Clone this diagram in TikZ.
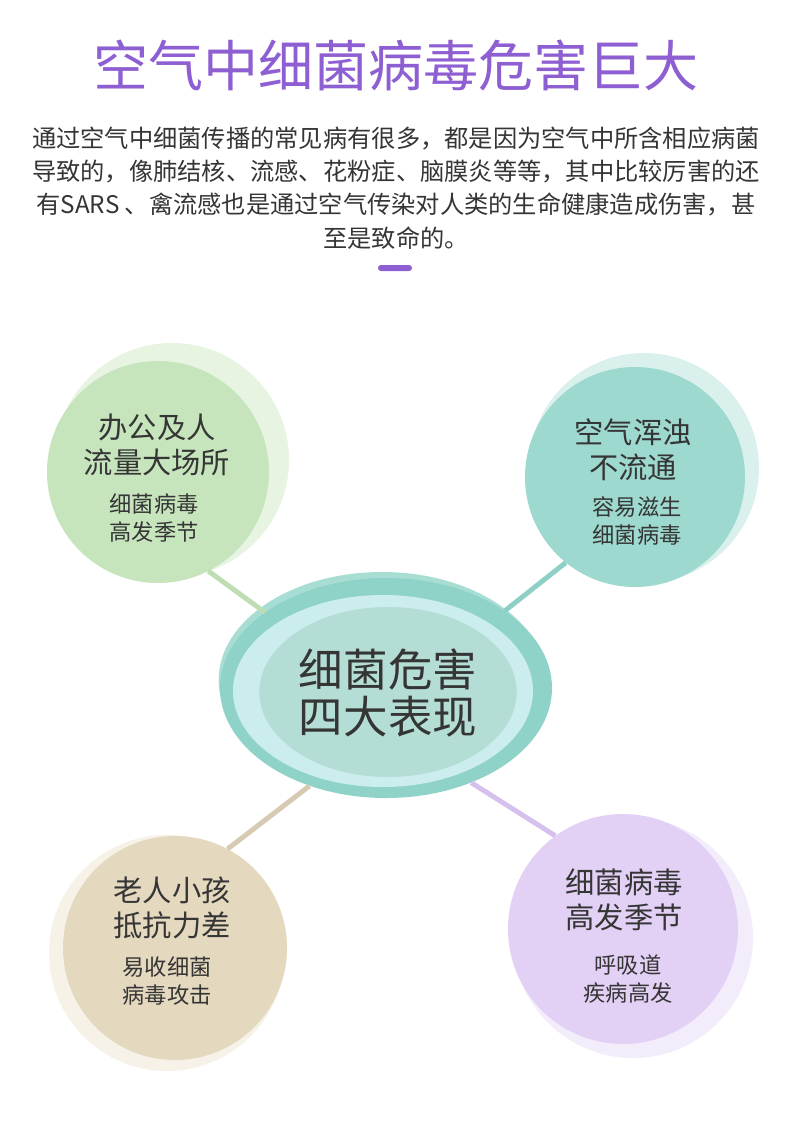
\documentclass[tikz,border=0pt]{standalone}
\usepackage{fontspec}
\setmainfont{Noto Sans CJK SC}
\usetikzlibrary{positioning,shapes.geometric}
\definecolor{titlepurple}{HTML}{8E5FD2}
\definecolor{bodytext}{HTML}{353535}
\definecolor{greenmain}{HTML}{C6E5BD}
\definecolor{greenglow}{HTML}{E7F4E2}
\definecolor{greenline}{HTML}{BFDDB3}
\definecolor{tealmain}{HTML}{9DD9CF}
\definecolor{tealglow}{HTML}{D9F0EC}
\definecolor{tealline}{HTML}{8ED0C5}
\definecolor{beigemain}{HTML}{E4D8BF}
\definecolor{beigeglow}{HTML}{F6F2E8}
\definecolor{beigeline}{HTML}{D6CAB2}
\definecolor{lilacmain}{HTML}{E2D0F5}
\definecolor{lilacglow}{HTML}{F3ECFB}
\definecolor{lilacline}{HTML}{D6C1EE}
\definecolor{coreouter}{HTML}{8FD3C8}
\definecolor{coreglow}{HTML}{A8DDD4}
\definecolor{corering}{HTML}{CCEDEE}
\definecolor{coreinner}{HTML}{B4DED5}
\tikzset{
  bubble/.style={circle, fill=#1, inner sep=0pt},
  headtext/.style={align=center, text=bodytext, font=\fontsize{25}{30}\selectfont},
  subtext/.style={align=center, text=bodytext, font=\fontsize{19}{24.5}\selectfont},
  link/.style={draw=#1, line width=4.2pt},
}

\begin{document}
\begin{tikzpicture}[x=0.03cm, y=-0.03cm]
  \useasboundingbox[fill=white] (0,0) rectangle (790,1144);

  % header
  \node[text=titlepurple, font=\fontsize{47}{50}\selectfont] (title) at (396,66) {空气中细菌病毒危害巨大};
  \node[align=center, text=bodytext, font=\fontsize{20.7}{28.3}\selectfont] (intro) at (396,188)
    {通过空气中细菌传播的常见病有很多，都是因为空气中所含相应病菌\\
     导致的，像肺结核、流感、花粉症、脑膜炎等等，其中比较厉害的还\\
     有SARS 、禽流感也是通过空气传染对人类的生命健康造成伤害，甚\\
     至是致命的。};
  \fill[titlepurple, rounded corners=2.5pt] (378,265) rectangle (412,271);

  % glows
  \fill[greenglow] (172,460) circle[radius=3.51cm];
  \fill[tealglow] (644,468) circle[radius=3.45cm];
  \fill[beigeglow] (167,953) circle[radius=3.54cm];
  \fill[lilacglow] (633,938) circle[radius=3.6cm];
  \fill[coreglow] (382,680) ellipse[x radius=4.9cm, y radius=3.24cm];

  % bubbles
  \node[bubble=greenmain, minimum size=6.66cm] (office) at (158,472) {};
  \node[bubble=tealmain, minimum size=6.6cm] (stale) at (635,477) {};
  \node[bubble=beigemain, minimum size=6.72cm] (elders) at (175,948) {};
  \node[bubble=lilacmain, minimum size=6.9cm] (season) at (623,929) {};
  \node[ellipse, fill=coreouter, minimum width=9.96cm, minimum height=6.6cm, inner sep=0pt] (core) at (386,688) {};
  \fill[corering] (383,691) ellipse[x radius=4.5cm, y radius=2.88cm];
  \fill[coreinner] (388,692) ellipse[x radius=3.86cm, y radius=2.55cm];

  % links
  \draw[link=greenline] (office.-63) -- (core.148);
  \draw[link=tealline] (stale.-129) -- (core.33);
  \draw[link=beigeline] (elders.62) -- (core.-128);
  \draw[link=lilacline] (season.126) -- (core.-48);

  % texts
  \node[align=center, text=bodytext, font=\fontsize{38}{40}\selectfont] (coretext) at (388,693) {细菌危害\\四大表现};
  \node[headtext] (officehead) at (157,445) {办公及人\\流量大场所};
  \node[subtext] (officesub) at (154,518) {细菌病毒\\高发季节};
  \node[headtext] (stalehead) at (633,450) {空气浑浊\\不流通};
  \node[subtext] (stalesub) at (637,521) {容易滋生\\细菌病毒};
  \node[headtext] (eldershead) at (172,908) {老人小孩\\抵抗力差};
  \node[subtext] (elderssub) at (167,981) {易收细菌\\病毒攻击};
  \node[headtext] (seasonhead) at (624,900) {细菌病毒\\高发季节};
  \node[subtext] (seasonsub) at (628,979) {呼吸道\\疾病高发};
\end{tikzpicture}
\end{document}
